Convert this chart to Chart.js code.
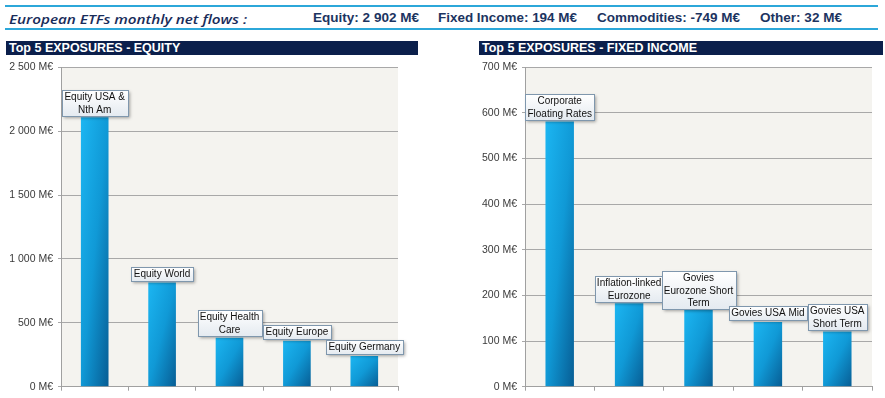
<!DOCTYPE html>
<html>
<head>
<meta charset="utf-8">
<script src="https://cdn.jsdelivr.net/npm/chart.js@4.4.1/dist/chart.umd.min.js"></script>
<style>
  html, body { margin: 0; padding: 0; background: #ffffff; }
  #page { position: relative; width: 885px; height: 398px; overflow: hidden; }
  .rule { position: absolute; left: 5px; width: 873px; height: 2px; background: #2ca7d9; }
  .fit { position: absolute; white-space: nowrap; line-height: 1; transform-origin: 0 0; color: #1c3461; }
  #title { left: 9px; top: 10px; font: italic 600 12.8px "Open Sans", sans-serif; color: #182c5a; }
  .stat { top: 10px; font: bold 13px "Liberation Sans", Arial, sans-serif; }
  .header { position: absolute; top: 41px; height: 14px; background: #0b1f4b; color: #ffffff;
            font: bold 12.5px "Liberation Sans", Arial, sans-serif; line-height: 14px; padding-left: 3px; box-sizing: border-box; white-space: nowrap; }
  canvas { position: absolute; top: 56px; }
</style>
</head>
<body>
<div id="page">
  <div class="rule" style="top:5px"></div>
  <div class="rule" style="top:28px"></div>
  <div id="title" class="fit" data-width="238">European ETFs monthly net flows :</div>
  <div class="fit stat" style="left:313px" data-width="106">Equity: 2 902 M€</div>
  <div class="fit stat" style="left:438px" data-width="139">Fixed Income: 194 M€</div>
  <div class="fit stat" style="left:597px" data-width="143">Commodities: -749 M€</div>
  <div class="fit stat" style="left:760px" data-width="82">Other: 32 M€</div>

  <div class="header" style="left:6px;width:412px">Top 5 EXPOSURES - EQUITY</div>
  <div class="header" style="left:479px;width:404px">Top 5 EXPOSURES - FIXED INCOME</div>

  <canvas id="equityChart" width="440" height="342" style="left:0px"></canvas>
  <canvas id="fixedChart" width="445" height="342" style="left:440px"></canvas>
</div>

<script>
// Top 5 equity exposures (M€)
const equityCategories = [
  ["Equity USA &", "Nth Am"],
  ["Equity World"],
  ["Equity Health", "Care"],
  ["Equity Europe"],
  ["Equity Germany"],
];
const equityFlows = [2110, 815, 384, 360, 241];
const equityTicks = { max: 2500, step: 500 };

// Top 5 fixed income exposures (M€)
const fixedCategories = [
  ["Corporate", "Floating Rates"],
  ["Inflation-linked", "Eurozone"],
  ["Govies", "Eurozone Short", "Term"],
  ["Govies USA Mid"],
  ["Govies USA", "Short Term"],
];
const fixedFlows = [581, 183, 168, 142, 121];
const fixedTicks = { max: 700, step: 100 };

const FONT = "'Liberation Sans', Arial, sans-serif";
const BAR_PCT = 0.41;

Chart.defaults.font.family = FONT;

function formatMillions(value) {
  return `${String(value).replace(/\B(?=(\d{3})+(?!\d))/g, " ")} M€`;
}

function fitTexts() {
  document.querySelectorAll(".fit").forEach((el) => {
    const target = Number(el.dataset.width);
    const actual = el.getBoundingClientRect().width;
    if (target && actual) {
      el.style.transform = `scaleX(${target / actual})`;
    }
  });
}

// Excel style "linear diagonal" fill, normalised to the bar box
function barGradient(context) {
  const chart = context.chart;
  const xScale = chart.scales.x;
  const yScale = chart.scales.y;
  if (!chart.chartArea || !xScale || !yScale) {
    return "#12a0dc";
  }
  const value = context.raw;
  const count = chart.data.labels.length;
  const w = ((xScale.right - xScale.left) / count) * BAR_PCT;
  const x0 = xScale.getPixelForValue(context.dataIndex) - w / 2;
  const y0 = yScale.getPixelForValue(value);
  const h = Math.max(1, yScale.getPixelForValue(0) - y0);
  const t = 2 / (1 / (w * w) + 1 / (h * h));
  const g = chart.ctx.createLinearGradient(x0, y0, x0 + t / w, y0 + t / h);
  g.addColorStop(0, "#1cb6f2");
  g.addColorStop(0.5, "#1099d6");
  g.addColorStop(1, "#075d94");
  return g;
}

const plotBackground = {
  id: "plotBackground",
  beforeDraw(chart) {
    const { ctx, chartArea } = chart;
    ctx.save();
    ctx.fillStyle = "#f4f3ef";
    ctx.fillRect(chartArea.left, chartArea.top, chartArea.right - chartArea.left, chartArea.bottom - chartArea.top);
    ctx.restore();
  },
};

const labelBoxes = {
  id: "labelBoxes",
  afterDatasetsDraw(chart) {
    const { ctx } = chart;
    const meta = chart.getDatasetMeta(0);
    const lineHeight = 12.2;
    ctx.save();
    ctx.font = `10px ${FONT}`;
    meta.data.forEach((bar, i) => {
      const raw = chart.data.labels[i];
      const lines = Array.isArray(raw) ? raw : [raw];
      const textWidth = Math.max(...lines.map((line) => ctx.measureText(line).width));
      const boxW = Math.round(textWidth + 5);
      const boxH = Math.round(lines.length * lineHeight + 1.5);
      const left = Math.round(bar.x - boxW / 2) + 0.5;
      const top = Math.round(bar.y - 1.5 - boxH) + 0.5;

      ctx.save();
      ctx.shadowColor = "rgba(0, 0, 0, 0.35)";
      ctx.shadowBlur = 3;
      ctx.shadowOffsetX = 1.5;
      ctx.shadowOffsetY = 1.5;
      const fill = ctx.createLinearGradient(0, top, 0, top + boxH);
      fill.addColorStop(0, "#ffffff");
      fill.addColorStop(1, "#e4eaf0");
      ctx.fillStyle = fill;
      ctx.fillRect(left, top, boxW, boxH);
      ctx.restore();

      ctx.strokeStyle = "#7f97ad";
      ctx.lineWidth = 1;
      ctx.strokeRect(left, top, boxW, boxH);

      ctx.fillStyle = "#111111";
      ctx.textAlign = "center";
      ctx.textBaseline = "middle";
      lines.forEach((line, k) => {
        ctx.fillText(line, bar.x, top + 1 + lineHeight * (k + 0.5));
      });
    });
    ctx.restore();
  },
};

function renderFlowsChart(canvasId, categories, values, ticks, yWidth, rightPad) {
  const ctx = document.getElementById(canvasId);
  return new Chart(ctx, {
    type: "bar",
    data: {
      labels: categories,
      datasets: [
        {
          data: values,
          backgroundColor: barGradient,
          borderWidth: 0,
          categoryPercentage: 1,
          barPercentage: BAR_PCT,
        },
      ],
    },
    options: {
      responsive: false,
      animation: false,
      devicePixelRatio: 1,
      layout: { padding: { top: 8, right: rightPad, bottom: 0, left: 0 } },
      scales: {
        x: {
          offset: true,
          grid: {
            offset: true,
            drawOnChartArea: false,
            drawTicks: true,
            tickLength: 4,
            color: "#a0a0a0",
          },
          border: { color: "#a0a0a0" },
          ticks: { display: false },
          afterFit: (scale) => {
            scale.height = 11;
          },
        },
        y: {
          min: 0,
          max: ticks.max,
          grid: {
            color: "#a8a8a8",
            drawTicks: true,
            tickLength: 3,
          },
          border: { color: "#a0a0a0" },
          ticks: {
            stepSize: ticks.step,
            color: "#3a3a3a",
            padding: 5,
            font: { size: 10.5 },
            callback: (value) => formatMillions(value),
          },
          afterFit: (scale) => {
            scale.width = yWidth;
          },
        },
      },
      plugins: {
        legend: { display: false },
        tooltip: { enabled: false },
      },
    },
    plugins: [plotBackground, labelBoxes],
  });
}

window.addEventListener("DOMContentLoaded", () => {
  fitTexts();
  renderFlowsChart("equityChart", equityCategories, equityFlows, equityTicks, 61, 42);
  renderFlowsChart("fixedChart", fixedCategories, fixedFlows, fixedTicks, 85, 13);
});
</script>
</body>
</html>
